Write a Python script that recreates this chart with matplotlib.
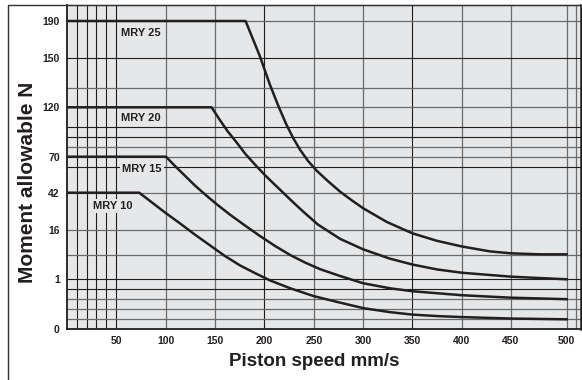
import numpy as np
import matplotlib
matplotlib.use("Agg")
import matplotlib.pyplot as plt
from matplotlib.lines import Line2D

# Chart data
X_TICKS = [50, 100, 150, 200, 250, 300, 350, 400, 450, 500]
Y_TICKS = [0, 1, 16, 42, 70, 120, 150, 190]

MRY25_X = [0, 181, 195.5, 205.5, 214, 222, 229, 236, 244, 253, 264, 276.5, 288.5,
           300, 324, 350, 375, 400, 428.5, 450, 476, 500]
MRY25_Y = [190, 190, 152, 134, 121, 103, 89, 77, 66.7, 58.9, 51.1, 42.8, 36.6,
           31.1, 21.6, 15, 12.7, 11, 9.5, 8.9, 8.6, 8.6]

MRY20_X = [0, 146.5, 155, 163, 171.5, 180.5, 190.5, 201.5, 214, 226, 239, 254, 276.5,
           300, 327, 350, 375, 400, 450, 500]
MRY20_Y = [120, 120, 107, 95.5, 85, 73.2, 63.9, 55, 45.7, 37.3, 28.9, 19.8, 13.3,
           10.1, 7.3, 5.5, 4.0, 3.0, 1.8, 1.0]

MRY15_X = [0, 100, 109, 119.5, 129.5, 140, 152, 165, 180.5, 195.5, 211, 226, 241,
           256, 276.5, 300, 327, 350, 375, 400, 450, 500]
MRY15_Y = [70, 70, 62.9, 55.1, 47.6, 40.7, 33.8, 26.8, 19.1, 14.2, 11.1, 8.4, 6.1,
           4.1, 2.0, 0.92, 0.82, 0.76, 0.72, 0.68, 0.63, 0.60]

MRY10_X = [0, 73, 84, 99, 114.5, 129.5, 145, 160, 175.5, 190.5, 205.5, 226, 250,
           276.5, 300, 327, 350, 375, 400, 450, 500]
MRY10_Y = [42, 42, 36.2, 28.2, 20.5, 14.6, 11.3, 8.1, 5.2, 2.9, 0.98, 0.82, 0.66,
           0.53, 0.42, 0.34, 0.29, 0.26, 0.24, 0.21, 0.195]

SERIES = [("MRY 25", MRY25_X, MRY25_Y), ("MRY 20", MRY20_X, MRY20_Y),
          ("MRY 15", MRY15_X, MRY15_Y), ("MRY 10", MRY10_X, MRY10_Y)]

# The original axes are not evenly spaced: piecewise linear scales
X_KNOT_VAL = [0, 50, 100, 150, 200, 250, 300, 350, 400, 450, 500, 512]
X_KNOT_POS = [0, 49.6, 99.3, 148.3, 197.6, 247.3, 296.6, 345.6, 395, 444.3, 500, 514]
Y_KNOT_VAL = [0, 1, 16, 42, 70, 120, 150, 190, 207]
Y_KNOT_POS = [0, 49.7, 99, 136.3, 172.3, 221.7, 271, 308, 324]

GRID_X_DARK = [10, 20, 30, 40, 50, 200, 350]
GRID_X_GREY = [100, 150, 250, 300, 400, 450, 500, 508]
GRID_Y_DARK = [0.8, 1, 62, 90, 100, 150]
GRID_Y_GREY = [0.2, 0.4, 0.6, 8.5, 16, 42, 70, 80, 120, 132, 190]

# label centres (data units)
LABEL_POS = {"MRY 25": (75, 176.7), "MRY 20": (75, 108.8),
             "MRY 15": (75.5, 60.8), "MRY 10": (46, 32.9)}

BG = "#e6e7e8"
INK = "#231f20"
FONT = ["Liberation Sans", "DejaVu Sans"]


def piecewise(vals, pos):
    fwd = lambda v: np.interp(np.asarray(v, dtype=float), vals, pos)
    inv = lambda p: np.interp(np.asarray(p, dtype=float), pos, vals)
    return fwd, inv


plt.rcParams["font.family"] = FONT

fig = plt.figure(figsize=(5.82, 3.80), dpi=100)
ax = fig.add_axes([66.7 / 582, 51 / 380, 514 / 582, 324 / 380])
ax.set_facecolor(BG)

ax.set_xscale("function", functions=piecewise(X_KNOT_VAL, X_KNOT_POS))
ax.set_yscale("function", functions=piecewise(Y_KNOT_VAL, Y_KNOT_POS))
ax.set_xlim(0, 512)
ax.set_ylim(0, 207)

# Grid
for v in GRID_X_DARK:
    ax.axvline(v, color="#1e1e1e", lw=0.8, zorder=1)
for v in GRID_X_GREY:
    ax.axvline(v, color="#6a6a6a", lw=0.9, zorder=1)
for v in GRID_Y_DARK:
    ax.axhline(v, color="#1e1e1e", lw=0.8, zorder=1)
for v in GRID_Y_GREY:
    ax.axhline(v, color="#6a6a6a", lw=0.9, zorder=1)

# Curves
for name, xs, ys in SERIES:
    ax.plot(xs, ys, color=INK, lw=1.8, solid_joinstyle="round", zorder=4)
    lx, ly = LABEL_POS[name]
    ax.text(lx, ly, name, fontsize=8, fontweight="bold", color=INK,
            ha="center", va="center", zorder=3,
            bbox=dict(boxstyle="square,pad=0.2", facecolor=BG, edgecolor="none"))

ax.set_xticks(X_TICKS)
ax.set_xticklabels([str(v) for v in X_TICKS], fontsize=7.5, fontweight="bold", color=INK)
ax.set_yticks(Y_TICKS)
ax.set_yticklabels([str(v) for v in Y_TICKS], fontsize=7.5, fontweight="bold", color=INK)
ax.tick_params(length=0, pad=5)
ax.minorticks_off()

for side in ["left", "bottom"]:
    ax.spines[side].set_linewidth(1.3)
    ax.spines[side].set_color("#1e1e1e")
ax.spines["right"].set_linewidth(1.8)
ax.spines["right"].set_color("#1e1e1e")
ax.spines["top"].set_linewidth(0.9)
ax.spines["top"].set_color("#555555")

# Outer frame (left + top)
fig.add_artist(Line2D([8 / 582, 8 / 582, 580 / 582], [-0.05, 1 - 5 / 380, 1 - 5 / 380],
                      transform=fig.transFigure, color="#333333", lw=1.0))

fig.text(28 / 582, 1 - 182 / 380, "Moment allowable N", rotation=90,
         fontsize=15, fontweight="bold", color=INK, ha="center", va="center")
fig.text(314 / 582, 1 - 361 / 380, "Piston speed mm/s",
         fontsize=13.5, fontweight="bold", color=INK, ha="center", va="center")

fig.savefig("out.png", dpi=100)
